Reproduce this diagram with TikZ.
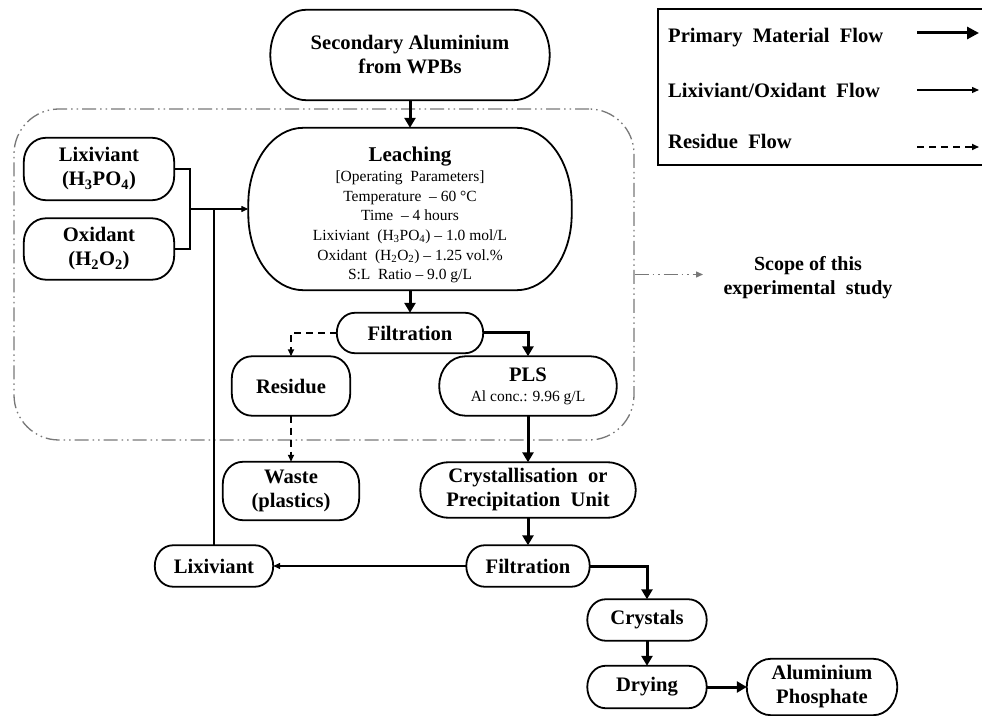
\documentclass[tikz,border=0pt]{standalone}
\usepackage{fontspec}
\setmainfont{Liberation Serif}
\usetikzlibrary{arrows.meta,calc}
\definecolor{scopegray}{RGB}{120,120,120}
\tikzset{
  blk/.style={inner sep=0pt, align=center, font=\bfseries\fontsize{20.6}{24}\selectfont},
  boxline/.style={line width=1.8pt, black},
  prim/.style={line width=3pt, -{Triangle[length=10pt,width=11pt]}},
  thinline/.style={line width=1.3pt},
  lxarrow/.style={line width=1.3pt, -{Triangle[length=7pt,width=6pt]}},
  rsarrow/.style={line width=1.6pt, dash pattern=on 7pt off 5pt, -{Triangle[length=7pt,width=6pt]}},
  scopeline/.style={scopegray, line width=1.3pt, dash pattern=on 14pt off 4pt on 1.5pt off 4pt on 1.5pt off 4pt},
}
\newcommand\rbx[3]{%
 \draw[boxline] ($(#1.north west)+(#2pt,0)$) -- ($(#1.north east)+(-#2pt,0)$)
  arc[start angle=90,end angle=0,x radius=#2pt,y radius=#3pt]
  -- ($(#1.south east)+(0,#3pt)$)
  arc[start angle=0,end angle=-90,x radius=#2pt,y radius=#3pt]
  -- ($(#1.south west)+(#2pt,0)$)
  arc[start angle=-90,end angle=-180,x radius=#2pt,y radius=#3pt]
  -- ($(#1.north west)+(0,-#3pt)$)
  arc[start angle=180,end angle=90,x radius=#2pt,y radius=#3pt] -- cycle;}
\begin{document}
\begin{tikzpicture}[x=1pt,y=1pt]
\useasboundingbox (0,0) rectangle (982,715);
\clip (0,0) rectangle (982,715);
\fill[white] (0,0) rectangle (982,715);

% scope region
\node[draw=scopegray, scopeline, rounded corners=45pt, minimum width=620pt, minimum height=331pt, inner sep=0pt] (scope) at (324,440.5) {};

% nodes
\node[blk, minimum width=279pt, minimum height=90pt] (src) at (410,660) {Secondary Aluminium\\from WPBs};
\node[blk, minimum width=323pt, minimum height=162pt, font=\fontsize{15.5}{19.6}\selectfont] (leach) at (410,506)
 {{\bfseries\fontsize{21}{24}\selectfont\rule{0pt}{26pt}Leaching}\\[1pt]
  [Operating\ \ Parameters]\\
  Temperature\ \ – 60 °C\\
  Time\ \ – 4 hours\\
  Lixiviant\ \ (H\textsubscript{3}PO\textsubscript{4}) – 1.0 mol/L\\
  Oxidant\ \ (H\textsubscript{2}O\textsubscript{2}) – 1.25 vol.\%\\
  S:L\ \ Ratio – 9.0 g/L};
\node[blk, minimum width=150pt, minimum height=62pt] (lix) at (99,546) {Lixiviant\\(H\textsubscript{3}PO\textsubscript{4})};
\node[blk, minimum width=150pt, minimum height=61pt] (oxi) at (99,466) {Oxidant\\(H\textsubscript{2}O\textsubscript{2})};
\node[blk, minimum width=146pt, minimum height=40pt] (filt1) at (410,382) {Filtration};
\node[blk, minimum width=118pt, minimum height=59pt] (res) at (291,329) {Residue};
\node[blk, minimum width=177pt, minimum height=59pt] (pls) at (528,329) {PLS\\[-4pt]{\mdseries\fontsize{15.5}{18}\selectfont Al conc.: 9.96 g/L}};
\node[blk, minimum width=136pt, minimum height=58pt] (waste) at (291,224) {Waste\\(plastics)};
\node[blk, minimum width=215pt, minimum height=55pt] (cryst) at (528,225) {Crystallisation\ \ or\\Precipitation\ \ Unit};
\node[blk, minimum width=123pt, minimum height=41pt] (filt2) at (528,149) {Filtration};
\node[blk, minimum width=118pt, minimum height=41pt] (lixr) at (214,149) {Lixiviant};
\node[blk, minimum width=119pt, minimum height=41pt] (crys) at (647,95) {Crystals};
\node[blk, minimum width=119pt, minimum height=42pt] (dry) at (647,28) {Drying};
\node[blk, minimum width=150pt, minimum height=56pt] (alp) at (822,28) {Aluminium\\Phosphate};

\rbx{src}{36}{45}
\rbx{leach}{55}{76}
\rbx{lix}{22}{24}
\rbx{oxi}{22}{24}
\rbx{filt1}{18}{20}
\rbx{res}{20}{22}
\rbx{pls}{26}{29}
\rbx{waste}{20}{22}
\rbx{cryst}{28}{27}
\rbx{filt2}{18}{20.5}
\rbx{lixr}{18}{20.5}
\rbx{crys}{18}{20.5}
\rbx{dry}{18}{21}
\rbx{alp}{24}{28}

% connectors
\coordinate (jn) at (190,506);
\draw[prim] (src.south) -- (leach.north);
\draw[thinline] (lix.east) -| (jn);
\draw[thinline] (oxi.east) -| (jn);
\draw[lxarrow] (jn) -- (leach.west);
\draw[thinline] (lixr.north) -- (lixr.north |- jn);
\draw[prim] (leach.south) -- (filt1.north);
\draw[rsarrow] (filt1.west) -| (res.north);
\draw[prim] (filt1.east) -| (pls.north);
\draw[rsarrow] (res.south) -- (waste.north);
\draw[prim] (pls.south) -- (cryst.north);
\draw[prim] (cryst.south) -- (filt2.north);
\draw[lxarrow] (filt2.west) -- (lixr.east);
\draw[prim] (filt2.east) -| (crys.north);
\draw[prim] (crys.south) -- (dry.north);
\draw[prim] (dry.east) -- (alp.west);

% scope label
\node[blk, font=\bfseries\fontsize{20}{24}\selectfont] (scopetxt) at (808,437) {Scope of this\\experimental\ \ study};
\coordinate (scopeend) at (703,440.5);
\draw[scopeline, -{Triangle[length=7pt,width=6pt]}] (scope.east) -- (scopeend);

% legend
\node[draw, line width=2pt, minimum width=337pt, minimum height=156pt, inner sep=0pt] (legend) at (826.5,628) {};
\node[blk, anchor=west, font=\bfseries\fontsize{20.6}{24}\selectfont] (lg1) at (668,677) {Primary\ \ Material\ \ Flow};
\node[blk, anchor=west, font=\bfseries\fontsize{20.6}{24}\selectfont] (lg2) at (668,625) {Lixiviant/Oxidant\ \ Flow};
\node[blk, anchor=west, font=\bfseries\fontsize{20.6}{24}\selectfont] (lg3) at (668,574) {Residue\ \ Flow};
\coordinate (a1s) at (917,682); \coordinate (a1e) at (979,682);
\coordinate (a2s) at (917,625); \coordinate (a2e) at (979,625);
\coordinate (a3s) at (917,568); \coordinate (a3e) at (979,568);
\draw[prim, -{Triangle[length=12pt,width=12pt]}] (a1s) -- (a1e);
\draw[lxarrow] (a2s) -- (a2e);
\draw[rsarrow] (a3s) -- (a3e);
\end{tikzpicture}
\end{document}
